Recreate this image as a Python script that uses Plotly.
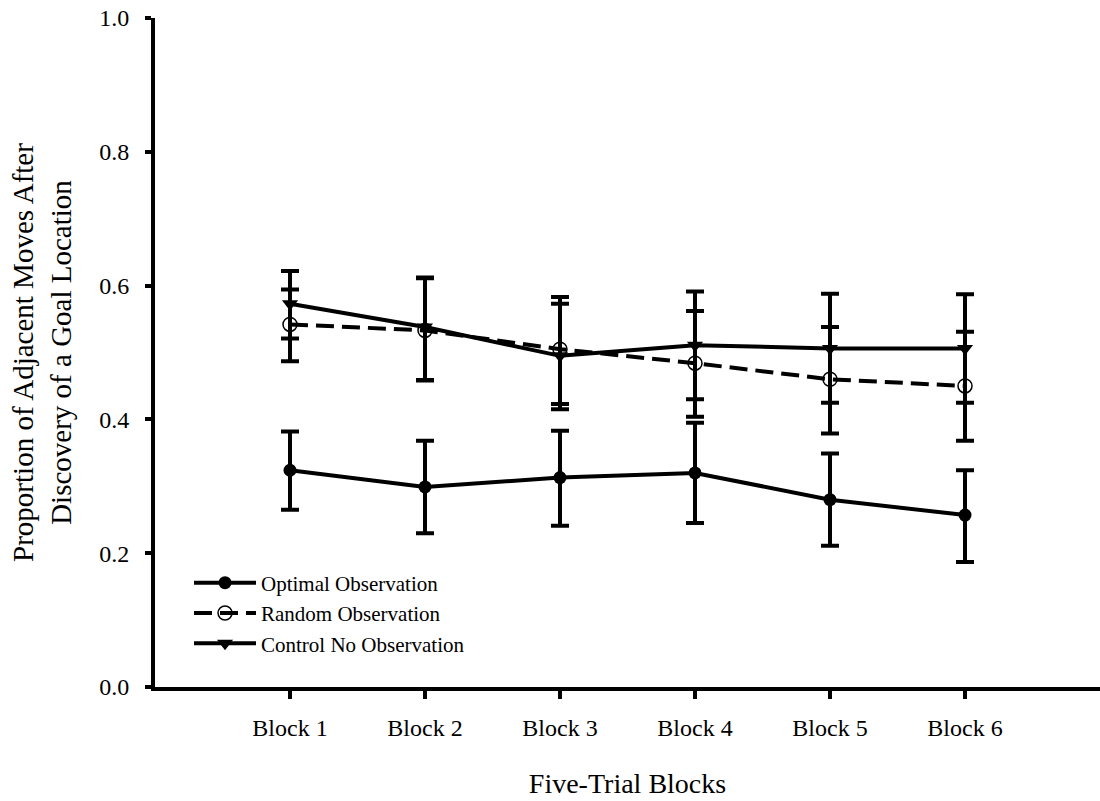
import plotly.graph_objects as go

blocks = ["Block 1", "Block 2", "Block 3", "Block 4", "Block 5", "Block 6"]
block_x = [1, 2, 3, 4, 5, 6]

optimal_mean = [0.324, 0.299, 0.313, 0.320, 0.280, 0.257]
optimal_err_up = [0.058, 0.069, 0.070, 0.075, 0.069, 0.067]
optimal_err_down = [0.059, 0.069, 0.072, 0.075, 0.069, 0.070]

random_mean = [0.542, 0.533, 0.505, 0.484, 0.460, 0.450]
random_err_up = [0.052, 0.078, 0.078, 0.078, 0.078, 0.081]
random_err_down = [0.055, 0.075, 0.082, 0.080, 0.081, 0.082]

control_mean = [0.573, 0.538, 0.495, 0.511, 0.506, 0.506]
control_err_up = [0.049, 0.074, 0.078, 0.080, 0.082, 0.081]
control_err_down = [0.052, 0.079, 0.080, 0.081, 0.081, 0.081]

y_ticks = [0.0, 0.2, 0.4, 0.6, 0.8, 1.0]

FONT = "Liberation Serif, Times New Roman, serif"


def err(up, down):
    return dict(type="data", symmetric=False, array=up, arrayminus=down,
                color="black", thickness=4, width=9)


fig = go.Figure()
fig.add_trace(go.Scatter(
    x=block_x, y=optimal_mean, name="Optimal Observation", mode="lines+markers",
    line=dict(color="black", width=4),
    marker=dict(symbol="circle", size=13, color="black"),
    error_y=err(optimal_err_up, optimal_err_down)))
fig.add_trace(go.Scatter(
    x=block_x, y=random_mean, name="Random Observation", mode="lines+markers",
    line=dict(color="black", width=4, dash="18px,8px"),
    marker=dict(symbol="circle-open", size=14, color="black", line=dict(width=1.5, color="black")),
    error_y=err(random_err_up, random_err_down)))
fig.add_trace(go.Scatter(
    x=block_x, y=control_mean, name="Control No Observation", mode="lines+markers",
    line=dict(color="black", width=4),
    marker=dict(symbol="triangle-down", size=14, color="black"),
    error_y=err(control_err_up, control_err_down)))

fig.update_layout(
    width=1100, height=801,
    margin=dict(l=155, r=0, t=18, b=114),
    paper_bgcolor="white", plot_bgcolor="white",
    font=dict(family=FONT, color="black", size=24),
    showlegend=True,
    legend=dict(x=0.036, y=0.186, xanchor="left", yanchor="top",
                font=dict(family=FONT, size=21, color="black"),
                bgcolor="rgba(0,0,0,0)", tracegroupgap=0, itemwidth=62),
    xaxis=dict(range=[0, 7], tickmode="array", tickvals=block_x, ticktext=blocks,
               showline=True, linecolor="black", linewidth=4, showgrid=False, zeroline=False,
               ticks="outside", ticklen=8, tickwidth=4, tickcolor="black",
               ticklabelstandoff=8,
               tickfont=dict(family=FONT, size=24),
               title=dict(text="Five-Trial Blocks", font=dict(family=FONT, size=28), standoff=35)),
    yaxis=dict(range=[0, 1.0], tickmode="array", tickvals=y_ticks,
               ticktext=[f"{v:.1f}" for v in y_ticks],
               showline=True, linecolor="black", linewidth=4, showgrid=False, zeroline=False,
               ticks="outside", ticklen=6, tickwidth=4, tickcolor="black",
               ticklabelstandoff=11,
               tickfont=dict(family=FONT, size=24),
               title=dict(text="Proportion of Adjacent Moves After<br>Discovery of a Goal Location",
                          font=dict(family=FONT, size=29), standoff=20)),
)

fig.write_html("out.html")
